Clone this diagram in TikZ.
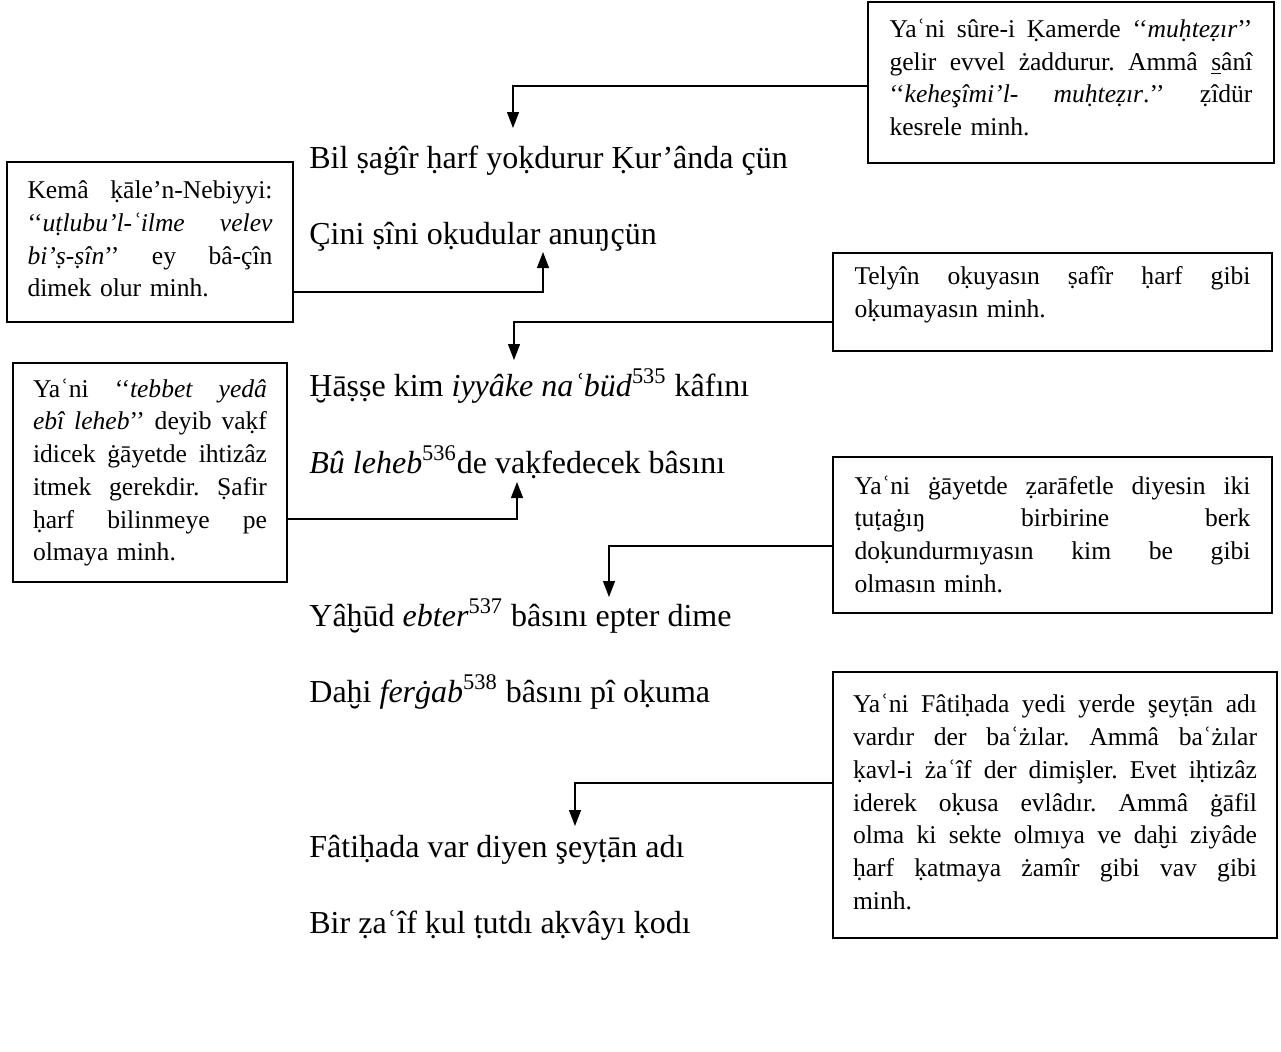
\documentclass[tikz,border=0pt]{standalone}
\usepackage{fontspec}
\setmainfont{Liberation Serif}
\usetikzlibrary{arrows.meta}
\frenchspacing
\newcommand{\jl}[1]{\hbox to\hsize{\spaceskip=0pt\xspaceskip=0pt #1}}
\newcommand{\lastln}[1]{\hbox{#1}}
\newcommand{\upby}[1]{\par\kern#1\relax}
\tikzset{
  note/.style={draw, line width=0.75pt, inner ysep=0pt,
    font=\fontsize{12.8pt}{16.35pt}\selectfont},
  verse/.style={anchor=base west, inner sep=0pt, font=\fontsize{16pt}{19pt}\selectfont},
  conn/.style={line width=0.65pt, -{Triangle[width=6pt,length=8pt]}}
}
\begin{document}
\begin{tikzpicture}[x=0.5pt,y=-0.5pt]
\useasboundingbox (0,0) rectangle (1281,1051);
\fill[white] (0,0) rectangle (1281,1051);

% verse lines
\node[verse] (l1) at (309,168) {Bil ṣaġîr ḥarf yoḳdurur Ḳur’ânda çün};
\node[verse] (l2) at (309,244) {Çini ṣîni oḳudular anuŋçün};
\node[verse] (l3) at (309,396) {Ḫāṣṣe kim \textit{iyyâke naʿbüd}\textsuperscript{535} kâfını};
\node[verse] (l4) at (309,473) {\textit{Bû leheb}\textsuperscript{536}de vaḳfedecek bâsını};
\node[verse] (l5) at (309,626) {Yâḫūd \textit{ebter}\textsuperscript{537} bâsını epter dime};
\node[verse] (l6) at (309,702) {Daḫi \textit{ferġab}\textsuperscript{538} bâsını pî oḳuma};
\node[verse] (l7) at (309,857) {Fâtiḥada var diyen şeyṭān adı};
\node[verse] (l8) at (309,933) {Bir ẓaʿîf ḳul ṭutdı aḳvâyı ḳodı};

% notes
\node[note, text width=181.5pt, inner xsep=10.75pt, minimum height=80.5pt] (A) at (1071,82.5) {%
\jl{Yaʿni sûre-i Ḳamerde ‘‘\textit{muḥteẓır}’’}
\jl{gelir evvel żaddurur. Ammâ \underline{s}ânî}
\jl{‘‘\textit{keheşîmi’l- muḥteẓır}.’’ ẓîdür}
\lastln{kesrele minh.}\upby{5pt}};

\node[note, text width=122.5pt, inner xsep=10.25pt, minimum height=80pt] (B) at (150,242) {%
\jl{Kemâ ḳāle’n-Nebiyyi:}
\jl{‘‘\textit{uṭlubu’l-ʿilme velev}}
\jl{\textit{bi’ṣ-ṣîn}’’ ey bâ-çîn}
\lastln{dimek olur minh.}\upby{3pt}};

\node[note, text width=117pt, inner xsep=10pt, minimum height=109.5pt] (B2) at (150,472.5) {%
\jl{Yaʿni ‘‘\textit{tebbet yedâ}}
\jl{\textit{ebî leheb}’’ deyib vaḳf}
\jl{idicek ġāyetde ihtizâz}
\jl{itmek gerekdir. Ṣafir}
\jl{ḥarf bilinmeye pe}
\lastln{olmaya minh.}};

\node[note, text width=198pt, inner xsep=10.75pt, minimum height=49pt] (C) at (1052.5,302) {%
\jl{Telyîn oḳuyasın ṣafîr ḥarf gibi}
\lastln{oḳumayasın minh.}\upby{7pt}};

\node[note, text width=198pt, inner xsep=10.75pt, minimum height=78pt] (D) at (1052.5,535) {%
\jl{Yaʿni ġāyetde ẓarāfetle diyesin iki}
\jl{ṭuṭaġıŋ birbirine berk}
\jl{doḳundurmıyasın kim be gibi}
\lastln{olmasın minh.}\upby{1pt}};

\node[note, text width=202pt, inner xsep=10pt, minimum height=133pt] (E) at (1055,805) {%
\jl{Yaʿni Fâtiḥada yedi yerde şeyṭān adı}
\jl{vardır der baʿżılar. Ammâ baʿżılar}
\jl{ḳavl-i żaʿîf der dimişler. Evet iḥtizâz}
\jl{iderek oḳusa evlâdır. Ammâ ġāfil}
\jl{olma ki sekte olmıya ve daḫi ziyâde}
\jl{ḥarf ḳatmaya żamîr gibi vav gibi}
\lastln{minh.}\upby{3pt}};

% connector corners and tips
\coordinate (ca) at (513,86);  \coordinate (ta) at (513,128);
\coordinate (cb) at (543,292); \coordinate (tb) at (543,252);
\coordinate (cc) at (514,322); \coordinate (tc) at (514,360);
\coordinate (cd) at (517,519); \coordinate (td) at (517,482);
\coordinate (ce) at (609,546); \coordinate (te) at (609,597);
\coordinate (cf) at (575,783); \coordinate (tf) at (575,826);

\draw[conn] (A.west |- ca) -- (ca) -- (ta);
\draw[conn] (B.east |- cb) -- (cb) -- (tb);
\draw[conn] (C.west |- cc) -- (cc) -- (tc);
\draw[conn] (B2.east |- cd) -- (cd) -- (td);
\draw[conn] (D.west |- ce) -- (ce) -- (te);
\draw[conn] (E.west |- cf) -- (cf) -- (tf);
\end{tikzpicture}
\end{document}
